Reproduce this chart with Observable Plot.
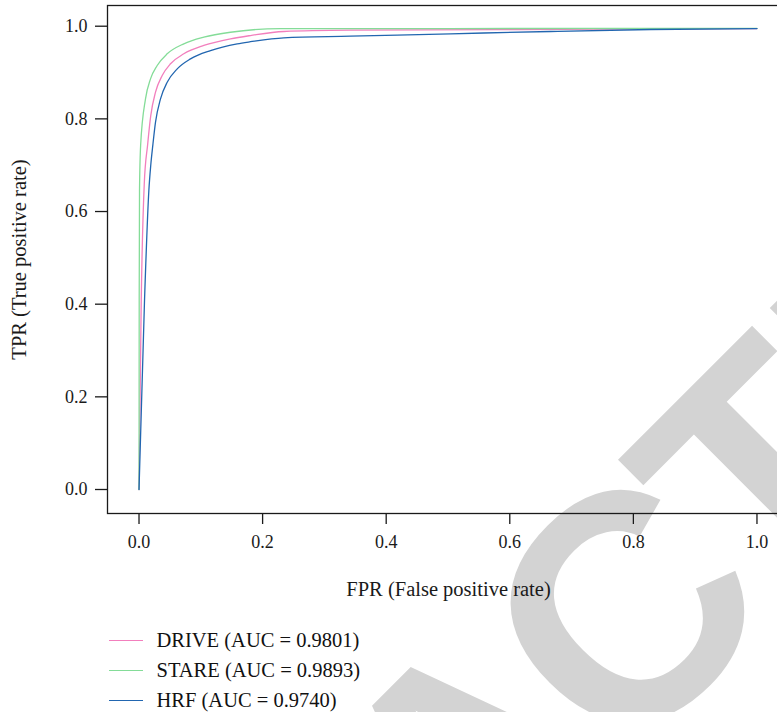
<!DOCTYPE html>
<html><head><meta charset="utf-8">
<script src="https://cdn.jsdelivr.net/npm/d3@7"></script>
<script src="https://cdn.jsdelivr.net/npm/@observablehq/plot@0.6"></script>
<style>
html,body{margin:0;padding:0;background:#fff;}
#wrap{position:relative;width:777px;height:712px;overflow:hidden;font-family:"Liberation Serif",serif;}
#wm{position:absolute;left:0;top:0;z-index:0;}
#chart{position:absolute;left:0;top:0;z-index:1;}
#legend{position:absolute;left:0;top:625px;z-index:1;}
.row{display:flex;align-items:center;height:30px;font-size:20.5px;color:#111;white-space:nowrap;}
.sw{width:34px;height:0;border-top:1.3px solid;margin-left:108.5px;margin-right:14px;}
</style></head><body>
<div id="wrap">
<svg id="wm" width="777" height="712"><text transform="translate(-154,1545.1) rotate(-45)" font-family="Liberation Sans" font-weight="bold" font-size="322" fill="#d3d3d3" dx="0 0 0 0 0 -15 -17 0 0">RETRACTED</text></svg>
<div id="chart"></div>
<div id="legend"></div>
</div>
<script>
const seriesNames = ["DRIVE (AUC = 0.9801)", "STARE (AUC = 0.9893)", "HRF (AUC = 0.9740)"];
const seriesColors = ["#f27fbd", "#84dc98", "#2266b0"];

const driveFPR = [0, 0.0036, 0.0085, 0.0140, 0.0190, 0.0267, 0.0375, 0.051, 0.0725, 0.1049, 0.148, 0.1804, 0.2343, 0.3422, 0.612, 0.8277, 1.0];
const driveTPR = [0, 0.408, 0.660, 0.745, 0.807, 0.8576, 0.8936, 0.919, 0.9404, 0.9584, 0.9728, 0.9799, 0.9886, 0.9914, 0.9929, 0.9944, 0.9950];

const stareFPR = [0, 0.0003, 0.0008, 0.0026, 0.0105, 0.0186, 0.0294, 0.0456, 0.0725, 0.1049, 0.148, 0.229, 0.5, 1.0];
const stareTPR = [0, 0.408, 0.645, 0.7425, 0.8433, 0.8864, 0.9152, 0.9404, 0.962, 0.9763, 0.987, 0.9948, 0.9950, 0.9952];

const hrfFPR = [0, 0.0089, 0.0159, 0.0190, 0.0225, 0.0267, 0.0348, 0.0456, 0.0618, 0.0833, 0.1157, 0.1589, 0.1804, 0.2343, 0.3422, 0.504, 0.6658, 0.8277, 1.0];
const hrfTPR = [0, 0.408, 0.645, 0.700, 0.745, 0.7928, 0.8433, 0.8791, 0.908, 0.9296, 0.9475, 0.962, 0.9665, 0.975, 0.9784, 0.9836, 0.9886, 0.9929, 0.9950];

const xTicks = [0, 0.2, 0.4, 0.6, 0.8, 1.0];
const yTicks = [0, 0.2, 0.4, 0.6, 0.8, 1.0];
const xTitle = "FPR (False positive rate)";
const yTitle = "TPR (True positive rate)";

const rows = [];
[[driveFPR, driveTPR], [stareFPR, stareTPR], [hrfFPR, hrfTPR]].forEach(([f, t], i) => {
  f.forEach((v, j) => rows.push({series: seriesNames[i], fpr: v, tpr: t[j]}));
});

const fmt = d3.format(".1f");
const plot = Plot.plot({
  width: 782, height: 610,
  marginLeft: 107, marginRight: 1, marginTop: 5, marginBottom: 97,
  x: {domain: [-0.051, 1.0397]},
  y: {domain: [-0.0518, 1.0447]},
  color: {domain: seriesNames, range: seriesColors},
  style: {fontFamily: "Liberation Serif", fontSize: "18px", background: "transparent", maxWidth: "none", color: "#1a1a1a", overflow: "visible"},
  marks: [
    Plot.axisX({ticks: xTicks, tickFormat: fmt, tickSize: 11, tickPadding: 11, fontSize: 18, label: null, strokeWidth: 1.3}),
    Plot.axisY({ticks: yTicks, tickFormat: fmt, tickSize: 12, tickPadding: 8, fontSize: 18, label: null, strokeWidth: 1.3}),
    Plot.frame({strokeWidth: 1.3}),
    Plot.line(rows, {x: "fpr", y: "tpr", z: "series", stroke: "series", strokeWidth: 1.3, curve: "monotone-x"}),
    Plot.text([xTitle], {text: d => d, frameAnchor: "bottom", dy: 76, dx: 4, fontSize: 20.5, lineAnchor: "middle", textAnchor: "middle"}),
    Plot.text([yTitle], {text: d => d, frameAnchor: "left", rotate: -90, dx: -87.6, fontSize: 20.5, lineAnchor: "middle", textAnchor: "middle"})
  ]
});
document.getElementById("chart").appendChild(plot);

const legend = document.getElementById("legend");
seriesNames.forEach((name, i) => {
  const row = document.createElement("div");
  row.className = "row";
  const sw = document.createElement("span");
  sw.className = "sw";
  sw.style.borderTopColor = seriesColors[i];
  const tx = document.createElement("span");
  tx.textContent = name;
  row.appendChild(sw);
  row.appendChild(tx);
  legend.appendChild(row);
});
</script>
</body></html>
